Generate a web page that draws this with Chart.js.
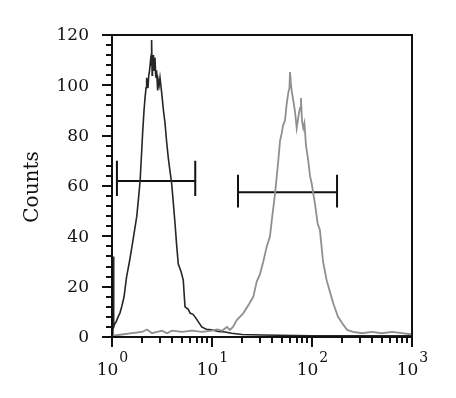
<!DOCTYPE html>
<html>
<head>
<meta charset="utf-8">
<script src="https://cdn.jsdelivr.net/npm/chart.js@4/dist/chart.umd.min.js"></script>
<style>
  html, body { margin: 0; padding: 0; background: #fff; }
  canvas { display: block; }
</style>
</head>
<body>
<canvas id="histChart" width="456" height="398"></canvas>
<script>
// Black histogram (control)
const blackX = [1.02, 1.03, 1.04, 1.06, 1.10, 1.15, 1.20, 1.25, 1.32, 1.35, 1.40, 1.48, 1.57, 1.66, 1.77, 1.84, 1.91, 1.97, 2.03, 2.09, 2.14, 2.19, 2.22, 2.29, 2.33, 2.36, 2.43, 2.47, 2.49, 2.52, 2.54, 2.60, 2.64, 2.69, 2.74, 2.79, 2.86, 2.90, 2.96, 3.02, 3.14, 3.27, 3.39, 3.51, 3.66, 3.80, 3.95, 4.07, 4.27, 4.42, 4.60, 4.90, 5.16, 5.37, 5.79, 6.03, 6.46, 6.76, 7.03, 7.89, 8.85, 9.40, 10, 11.6, 13.5, 15.7, 20, 31.6, 100, 1000];
const blackY = [0, 32, 4, 5, 6, 8, 9.5, 12, 16, 19, 24, 29, 35, 41, 48, 55, 62, 72, 82, 90, 95, 99, 103, 99, 104, 105, 110, 108, 118, 104, 108, 112, 106, 111, 103, 106, 98, 102, 100, 103, 97, 90, 85, 78, 71, 66, 61, 55, 45, 37, 29, 26, 22.6, 12, 11, 9.5, 9, 8, 7, 4, 3, 3, 2.8, 2.2, 2, 1.5, 1, 0.8, 0.5, 0.5];

// Gray histogram (stained)
const grayX = [1, 1.26, 1.58, 2.0, 2.24, 2.51, 3.16, 3.55, 3.98, 5.01, 6.31, 7.94, 10, 11.2, 12.6, 14.1, 15.1, 16.2, 17.7, 20.6, 23.4, 25.9, 28, 30.2, 32.6, 35.2, 38, 39.8, 42.7, 46, 47.9, 49.8, 51.3, 53.7, 55.6, 57.9, 59.5, 60.3, 61.7, 63.1, 65, 67.6, 70.3, 73.3, 75.9, 77.6, 79.4, 81.8, 84, 87.1, 91.8, 95.5, 99.3, 107, 114, 120, 129, 140, 151, 163, 182, 206, 225, 257, 316, 398, 501, 631, 794, 1000];
const grayY = [0.5, 1, 1.5, 2, 3, 1.5, 2.5, 1.5, 2.5, 2, 2.5, 2, 2.5, 3, 2.5, 4, 2.8, 4, 6.7, 9.5, 13, 16, 22, 25, 30, 35.8, 40, 47, 57, 70, 78, 81, 84, 86, 92, 97, 99, 105.3, 100, 97, 94, 89.6, 83, 88, 91, 95, 86, 83, 85, 76, 70, 64, 61, 53, 45, 42.5, 30, 22.6, 18, 13.4, 8, 4.8, 2.8, 2, 1.5, 2, 1.5, 2, 1.5, 1];

// Gate markers: [start, end], level, cap bottom, cap top
const gate1X = [1.12, 6.8];
const gate1Y = [62, 56, 70];
const gate2X = [18.2, 178];
const gate2Y = [57.5, 51.5, 64.5];

// Axis ticks
const yTickLabels = [0, 20, 40, 60, 80, 100, 120];
const xTickExps = [0, 1, 2, 3];

function toPoints(xs, ys) {
    return xs.map((x, i) => ({ x: x, y: ys[i] }));
}

function gatePoints(xs, ys) {
    const mid = ys[0], lo = ys[1], hi = ys[2];
    return [
        { x: xs[0], y: lo }, { x: xs[0], y: hi }, { x: xs[0], y: mid },
        { x: xs[1], y: mid }, { x: xs[1], y: hi }, { x: xs[1], y: lo }
    ];
}

// Frame, ticks and labels drawn from the chart's own scales
const axisPlugin = {
    id: 'axisPlugin',
    afterDraw(chart) {
        const ctx = chart.ctx;
        const xs = chart.scales.x, ys = chart.scales.y;
        const area = chart.chartArea;
        ctx.save();
        ctx.strokeStyle = '#111';
        ctx.lineWidth = 2;
        ctx.strokeRect(area.left, area.top, area.right - area.left, area.bottom - area.top);

        // y ticks
        ctx.beginPath();
        for (let v = 0; v <= 120; v += 4) {
            const py = Math.round(ys.getPixelForValue(v));
            const len = v % 20 === 0 ? 10 : 6;
            ctx.moveTo(area.left - len, py);
            ctx.lineTo(area.left, py);
        }
        // x ticks
        for (let d = 0; d < 3; d++) {
            for (let m = 1; m <= 9; m++) {
                const px = Math.round(xs.getPixelForValue(m * Math.pow(10, d)));
                const len = m === 1 ? 10 : 6;
                ctx.moveTo(px, area.bottom);
                ctx.lineTo(px, area.bottom + len);
            }
        }
        const pxEnd = Math.round(xs.getPixelForValue(1000));
        ctx.moveTo(pxEnd, area.bottom);
        ctx.lineTo(pxEnd, area.bottom + 10);
        ctx.stroke();

        // y labels
        ctx.fillStyle = '#111';
        ctx.font = '17px "DejaVu Serif"';
        ctx.textAlign = 'right';
        ctx.textBaseline = 'middle';
        yTickLabels.forEach(v => {
            ctx.fillText(String(v), area.left - 23, ys.getPixelForValue(v) + 1);
        });

        // x labels 10^n
        ctx.textAlign = 'left';
        ctx.textBaseline = 'alphabetic';
        xTickExps.forEach(e => {
            const cx = xs.getPixelForValue(Math.pow(10, e));
            ctx.font = '17px "DejaVu Serif"';
            const wBase = ctx.measureText('10').width;
            ctx.font = '14px "DejaVu Serif"';
            const wExp = ctx.measureText(String(e)).width;
            const x0 = cx - (wBase + wExp) / 2;
            ctx.font = '17px "DejaVu Serif"';
            ctx.fillText('10', x0, 375);
            ctx.font = '14px "DejaVu Serif"';
            ctx.fillText(String(e), x0 + wBase + 1, 362);
        });

        // y title
        ctx.translate(33, 187);
        ctx.rotate(-Math.PI / 2);
        ctx.font = '20px "DejaVu Serif"';
        ctx.textAlign = 'center';
        ctx.textBaseline = 'middle';
        ctx.fillText('Counts', 0, 0);
        ctx.restore();
    }
};

new Chart(document.getElementById('histChart'), {
    type: 'line',
    data: {
        datasets: [
            {
                data: toPoints(grayX, grayY),
                borderColor: '#8f8f8f',
                borderWidth: 1.8
            },
            {
                data: toPoints(blackX, blackY),
                borderColor: '#262626',
                borderWidth: 1.6
            },
            {
                data: gatePoints(gate1X, gate1Y),
                borderColor: '#111',
                borderWidth: 2
            },
            {
                data: gatePoints(gate2X, gate2Y),
                borderColor: '#111',
                borderWidth: 2
            }
        ]
    },
    options: {
        responsive: false,
        animation: false,
        layout: {
            padding: { left: 112, right: 44, top: 35, bottom: 61 }
        },
        elements: {
            point: { radius: 0 },
            line: { tension: 0 }
        },
        scales: {
            x: { type: 'logarithmic', min: 1, max: 1000, display: false },
            y: { type: 'linear', min: 0, max: 120, display: false }
        },
        plugins: {
            legend: { display: false },
            tooltip: { enabled: false }
        }
    },
    plugins: [axisPlugin]
});
</script>
</body>
</html>
